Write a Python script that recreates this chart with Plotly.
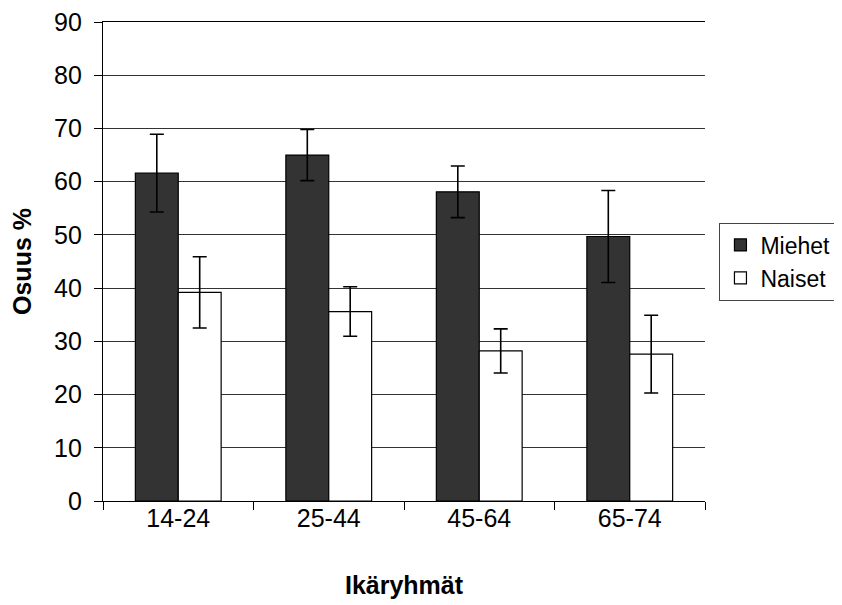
import plotly.graph_objects as go

categories = ["14-24", "25-44", "45-64", "65-74"]
miehet = [61.6, 65.0, 58.1, 49.7]
miehet_err = [7.3, 4.8, 4.85, 8.65]
naiset = [39.2, 35.6, 28.2, 27.6]
naiset_err = [6.7, 4.65, 4.15, 7.3]

font = "Liberation Sans, Arial, sans-serif"

fig = go.Figure()
fig.add_trace(go.Bar(
    name="Miehet", x=categories, y=miehet,
    marker=dict(color="#333333", line=dict(color="black", width=1.2)),
    error_y=dict(type="data", array=miehet_err, visible=True,
                 color="black", thickness=1.6, width=7),
))
fig.add_trace(go.Bar(
    name="Naiset", x=categories, y=naiset,
    marker=dict(color="white", line=dict(color="black", width=1.2)),
    error_y=dict(type="data", array=naiset_err, visible=True,
                 color="black", thickness=1.6, width=7),
))

fig.update_layout(
    width=834, height=597,
    margin=dict(l=95, r=137, t=14, b=104, autoexpand=False),
    paper_bgcolor="white", plot_bgcolor="white",
    barmode="group", bargap=0.43, bargroupgap=0,
    font=dict(family=font, size=25, color="black"),
    showlegend=True,
    legend=dict(x=1.024, y=0.5, xanchor="left", yanchor="middle",
                bordercolor="#444444", borderwidth=1,
                font=dict(size=23), itemwidth=30, tracegroupgap=0,
                traceorder="normal"),
    xaxis=dict(
        title=dict(text="<b>Ikäryhmät</b>", font=dict(size=25), standoff=45),
        showline=True, linecolor="black", linewidth=1.2, mirror=True,
        ticks="outside", ticklen=8, tickcolor="black", tickson="boundaries",
        showgrid=False, automargin=False, ticklabelstandoff=-5,
    ),
    yaxis=dict(
        title=dict(text="<b>Osuus %</b>", font=dict(size=25), standoff=18),
        range=[0, 90], dtick=10,
        showline=True, linecolor="black", linewidth=1.2,
        ticks="outside", ticklen=8, tickcolor="black",
        showgrid=True, gridcolor="#333333", gridwidth=1,
        zeroline=False, automargin=False, ticklabelstandoff=7,
        ticklabeloverflow="allow",
    ),
)

fig.write_html("out.html")
